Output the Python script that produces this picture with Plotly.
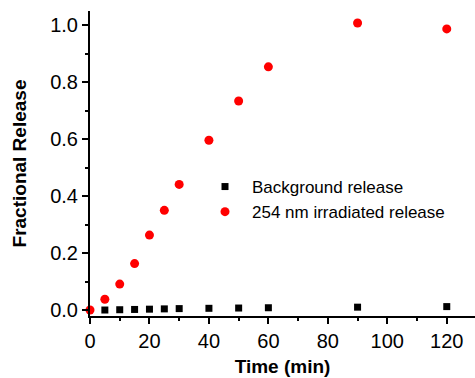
import plotly.graph_objects as go

# Data
bg_time = [5, 10, 15, 20, 25, 30, 40, 50, 60, 90, 120]
bg_release = [0.000, 0.001, 0.002, 0.003, 0.004, 0.005, 0.006, 0.007, 0.008, 0.010, 0.012]

uv_time = [0, 5, 10, 15, 20, 25, 30, 40, 50, 60, 90, 120]
uv_release = [0.0, 0.038, 0.091, 0.163, 0.263, 0.350, 0.441, 0.596, 0.734, 0.854, 1.008, 0.987]

series_names = ["Background release", "254 nm irradiated release"]
x_title = "Time (min)"
y_title = "Fractional Release"
x_ticks = [0, 20, 40, 60, 80, 100, 120]
y_ticks = [0.0, 0.2, 0.4, 0.6, 0.8, 1.0]
y_ticklabels = ["0.0", "0.2", "0.4", "0.6", "0.8", "1.0"]

FONT = "Liberation Sans, Arial, Helvetica, sans-serif"

fig = go.Figure()
fig.add_trace(go.Scatter(
    x=bg_time, y=bg_release, mode="markers", name=series_names[0],
    marker=dict(symbol="square", size=7, color="black"), cliponaxis=False,
))
fig.add_trace(go.Scatter(
    x=uv_time, y=uv_release, mode="markers", name=series_names[1],
    marker=dict(symbol="circle", size=9, color="#ff0000"), cliponaxis=False,
))

axis_common = dict(
    showgrid=False, zeroline=False, showline=True, linecolor="black", linewidth=2,
    ticks="outside", ticklen=6, tickwidth=1.5, tickcolor="black",
    tickfont=dict(family=FONT, size=20, color="black"),
    automargin=False,
)

fig.update_xaxes(
    range=[0, 129.5], tickvals=x_ticks,
    minor=dict(dtick=10, tick0=0, ticks="outside", ticklen=3, tickwidth=1.5, tickcolor="black", showgrid=False),
    title=dict(text=x_title, font=dict(family=FONT, size=19, color="black", weight="bold"), standoff=9),
    **axis_common,
)
fig.update_yaxes(
    range=[-0.021, 1.05], tickvals=y_ticks, ticktext=y_ticklabels,
    minor=dict(dtick=0.1, tick0=0, ticks="outside", ticklen=3, tickwidth=1.5, tickcolor="black", showgrid=False),
    title=dict(text=y_title, font=dict(family=FONT, size=19, color="black", weight="bold"), standoff=19),
    **axis_common,
)

fig.update_layout(
    width=475, height=378,
    margin=dict(l=90, r=0, t=11, b=62, autoexpand=False),
    paper_bgcolor="white", plot_bgcolor="white",
    font=dict(family=FONT, color="black"),
    legend=dict(
        x=(198 - 90) / 385, y=(316 - 169) / 305, xanchor="left", yanchor="top",
        bgcolor="rgba(0,0,0,0)", font=dict(family=FONT, size=17, color="black"),
        tracegroupgap=0, itemwidth=44,
    ),
    showlegend=True,
)

fig.write_html(
    "out.html",
    config={"displayModeBar": False},
    post_script="document.body.style.margin='0';document.body.style.padding='0';",
)
